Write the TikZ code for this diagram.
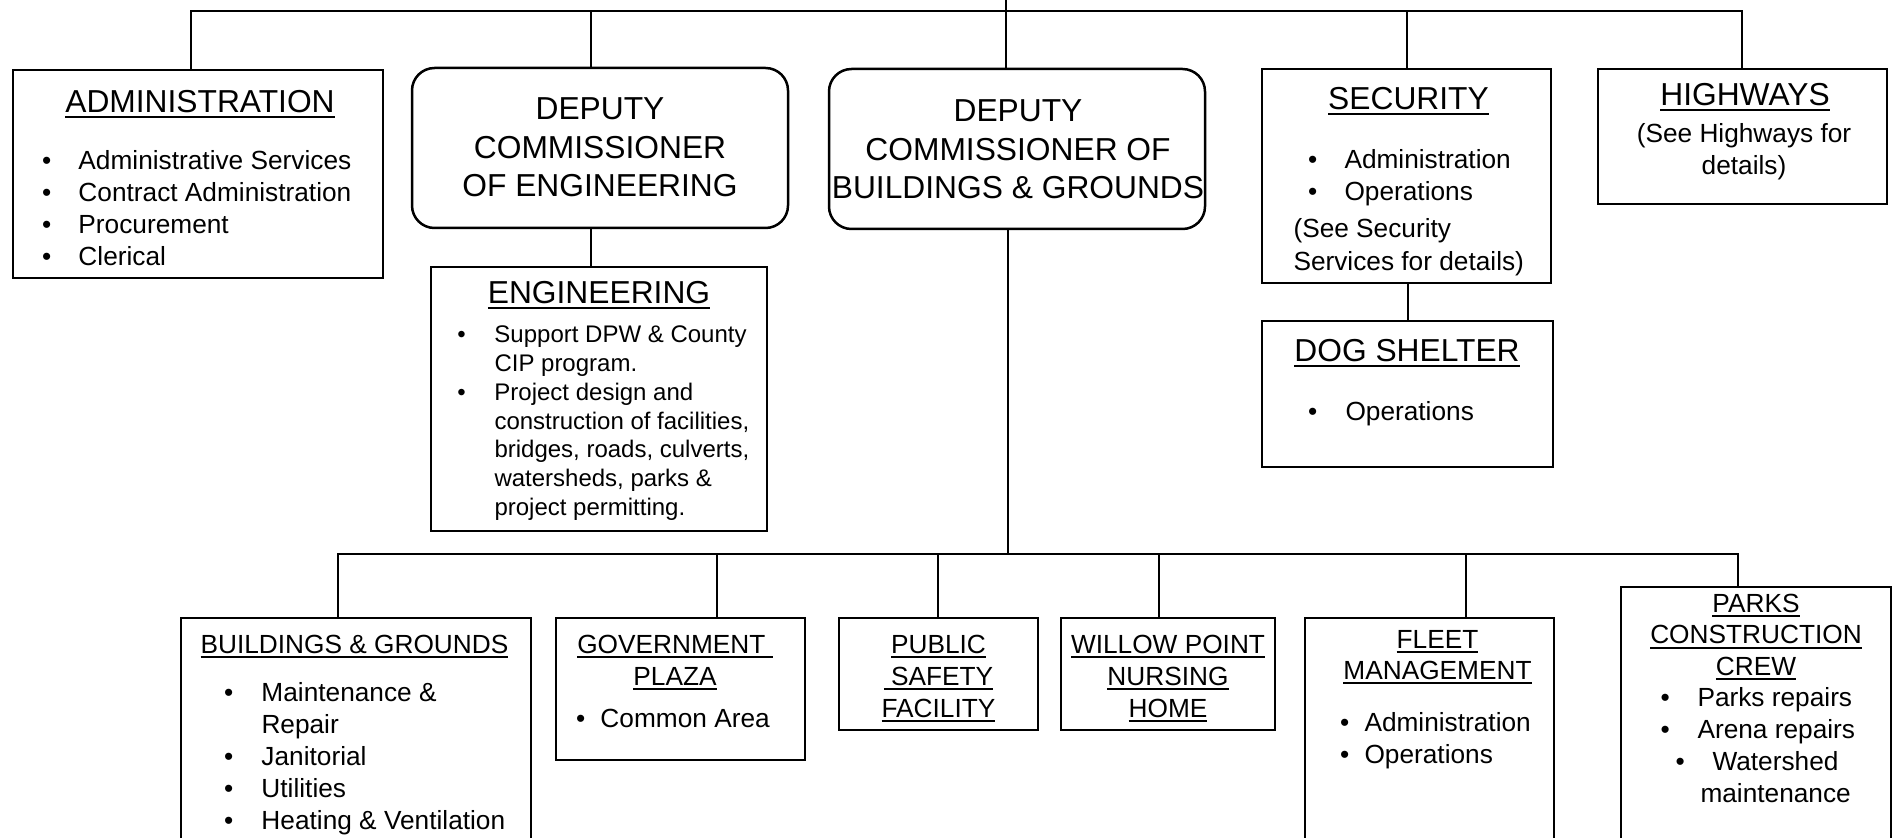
\documentclass[tikz,border=0pt]{standalone}
\usepackage{fontspec}
\setmainfont{Liberation Sans}
\usetikzlibrary{fit}
\newcommand\fs[2]{\fontsize{#1}{#2}\selectfont}
\newcommand\ul[1]{\setbox0\hbox{#1}\rlap{\rule[-2.1pt]{\wd0}{0.75pt}}\box0}
\newcommand\bl[2]{\makebox[#1][l]{\textbullet}#2}
\begin{document}
\begin{tikzpicture}[x=0.4pt,y=-0.4pt,
  box/.style={draw, line width=1pt, inner sep=0pt},
  rbox/.style={box, rounded corners=9pt},
  conn/.style={line width=0.7pt},
  txt/.style={inner sep=0pt, anchor=base},
  txl/.style={inner sep=0pt, anchor=base west}]
\useasboundingbox (0,0) rectangle (1900,838);
\fill[white] (0,0) rectangle (1900,838);
\clip (0,0) rectangle (1900,838);

% boxes
\node[box, fit={(13,70) (383,278)}] (admin) {};
\node[rbox, fit={(412,68) (788,228)}] (depeng) {};
\node[rbox, fit={(829,69) (1205,229)}] (depbg) {};
\node[box, fit={(1262,69) (1551,283)}] (sec) {};
\node[box, fit={(1598,69) (1887,204)}] (hwy) {};
\node[box, fit={(431,267) (767,531)}] (eng) {};
\node[box, fit={(1262,321) (1553,467)}] (dog) {};
\node[box, fit={(181,618) (531,900)}] (bg) {};
\node[box, fit={(556,618) (805,760)}] (gov) {};
\node[box, fit={(839,618) (1038,730)}] (pub) {};
\node[box, fit={(1061,618) (1275,730)}] (wil) {};
\node[box, fit={(1305,618) (1554,900)}] (fleet) {};
\node[box, fit={(1621,587) (1891,900)}] (parks) {};

% connectors
\coordinate (root) at (1006,0);
\coordinate (bus) at (1006,11);
\coordinate (bbus) at (1008,554);
\draw[conn] (191,0 |- admin.north) |- (bus) -| (1742,0 |- hwy.north);
\draw[conn] (root) -- (1006,0 |- depbg.north);
\draw[conn] (591,0 |- bus) -- (591,0 |- depeng.north);
\draw[conn] (1407,0 |- bus) -- (1407,0 |- sec.north);
\draw[conn] (591,0 |- depeng.south) -- (591,0 |- eng.north);
\draw[conn] (1408,0 |- sec.south) -- (1408,0 |- dog.north);
\draw[conn] (1008,0 |- depbg.south) -- (bbus);
\draw[conn] (338,0 |- bg.north) |- (bbus) -| (1738,0 |- parks.north);
\draw[conn] (717,0 |- bbus) -- (717,0 |- gov.north);
\draw[conn] (938,0 |- bbus) -- (938,0 |- pub.north);
\draw[conn] (1159,0 |- bbus) -- (1159,0 |- wil.north);
\draw[conn] (1466,0 |- bbus) -- (1466,0 |- fleet.north);

% texts
\node[txt, font={\fs{12.7}{15}}] (admint) at (200,113) {\ul{ADMINISTRATION}};
\node[txl, font={\fs{10.5}{12.75}}] (adminb) at (41.5,170) {\begin{tabular}[t]{@{}l@{}}\bl{14.6pt}{Administrative Services}\\ \bl{14.6pt}{Contract Administration}\\ \bl{14.6pt}{Procurement}\\ \bl{14.6pt}{Clerical}\end{tabular}};

\node[txt, font={\fs{12.7}{15.4}}] (depengt) at (600,120) {\begin{tabular}[t]{@{}c@{}}DEPUTY\\ COMMISSIONER\\ OF ENGINEERING\end{tabular}};
\node[txt, font={\fs{12.7}{15.4}}] (depbgt) at (1018,122) {\begin{tabular}[t]{@{}c@{}}DEPUTY\\ COMMISSIONER OF\\ BUILDINGS \& GROUNDS\end{tabular}};

\node[txt, font={\fs{12.7}{15}}] (sect) at (1408.5,110) {\ul{SECURITY}};
\node[txl, font={\fs{10.5}{12.5}}] (secb) at (1307.5,169) {\begin{tabular}[t]{@{}l@{}}\bl{14.6pt}{Administration}\\ \bl{14.6pt}{Operations}\end{tabular}};
\node[txl, font={\fs{10.5}{13.2}}] (secn) at (1293,238) {\begin{tabular}[t]{@{}l@{}}(See Security\\ Services for details)\end{tabular}};

\node[txt, font={\fs{12.7}{15}}] (hwyt) at (1745,106) {\ul{HIGHWAYS}};
\node[txt, font={\fs{10.5}{12.6}}] (hwyb) at (1744,143) {\begin{tabular}[t]{@{}c@{}}(See Highways for\\ details)\end{tabular}};

\node[txt, font={\fs{12.7}{15}}] (engt) at (599,304) {\ul{ENGINEERING}};
\node[txl, font={\fs{9.6}{11.47}}] (engb) at (456.75,343) {\begin{tabular}[t]{@{}l@{}}\bl{14.9pt}{Support DPW \& County}\\ \hspace{14.9pt}CIP program.\\ \bl{14.9pt}{Project design and}\\ \hspace{14.9pt}construction of facilities,\\ \hspace{14.9pt}bridges, roads, culverts,\\ \hspace{14.9pt}watersheds, parks \&\\ \hspace{14.9pt}project permitting.\end{tabular}};

\node[txt, font={\fs{12.7}{15}}] (dogt) at (1407,362) {\ul{DOG SHELTER}};
\node[txl, font={\fs{10.5}{12.4}}] (dogb) at (1307.5,421) {\bl{15pt}{Operations}};

\node[txt, font={\fs{10.5}{12.7}}] (bgt) at (354.5,653) {\ul{BUILDINGS \& GROUNDS}};
\node[txl, font={\fs{10.5}{12.75}}] (bgb) at (223.5,701.5) {\begin{tabular}[t]{@{}l@{}}\bl{15pt}{Maintenance \&}\\ \hspace{15pt}Repair\\ \bl{15pt}{Janitorial}\\ \bl{15pt}{Utilities}\\ \bl{15pt}{Heating \& Ventilation}\end{tabular}};

\node[txt, font={\fs{10.5}{12.8}}] (govt) at (675,653) {\begin{tabular}[t]{@{}c@{}}\ul{GOVERNMENT }\\ \ul{PLAZA}\end{tabular}};
\node[txl, font={\fs{10.5}{12.8}}] (govb) at (575.5,727) {\bl{9.8pt}{Common Area}};

\node[txt, font={\fs{10.5}{12.8}}] (pubt) at (938.5,653) {\begin{tabular}[t]{@{}c@{}}\ul{PUBLIC}\\ \ul{ SAFETY}\\ \ul{FACILITY}\end{tabular}};
\node[txt, font={\fs{10.5}{12.8}}] (wilt) at (1168,653) {\begin{tabular}[t]{@{}c@{}}\ul{WILLOW POINT}\\ \ul{NURSING}\\ \ul{HOME}\end{tabular}};

\node[txt, font={\fs{10.5}{12.4}}] (fleett) at (1437.5,648) {\begin{tabular}[t]{@{}c@{}}\ul{FLEET}\\ \ul{MANAGEMENT}\end{tabular}};
\node[txl, font={\fs{10.5}{12.8}}] (fleetb) at (1339.5,731) {\begin{tabular}[t]{@{}l@{}}\bl{9.8pt}{Administration}\\ \bl{9.8pt}{Operations}\end{tabular}};

\node[txt, font={\fs{10.5}{12.6}}] (parkst) at (1756,612) {\begin{tabular}[t]{@{}c@{}}\ul{PARKS}\\ \ul{CONSTRUCTION}\\ \ul{CREW}\end{tabular}};
\node[txl, font={\fs{10.5}{12.8}}] (parksb) at (1660,706) {\begin{tabular}[t]{@{}l@{}}\bl{14.8pt}{Parks repairs}\\ \bl{14.8pt}{Arena repairs}\\ \hspace{6pt}\bl{14.8pt}{Watershed}\\ \hspace{16pt}maintenance\end{tabular}};
\end{tikzpicture}
\end{document}
